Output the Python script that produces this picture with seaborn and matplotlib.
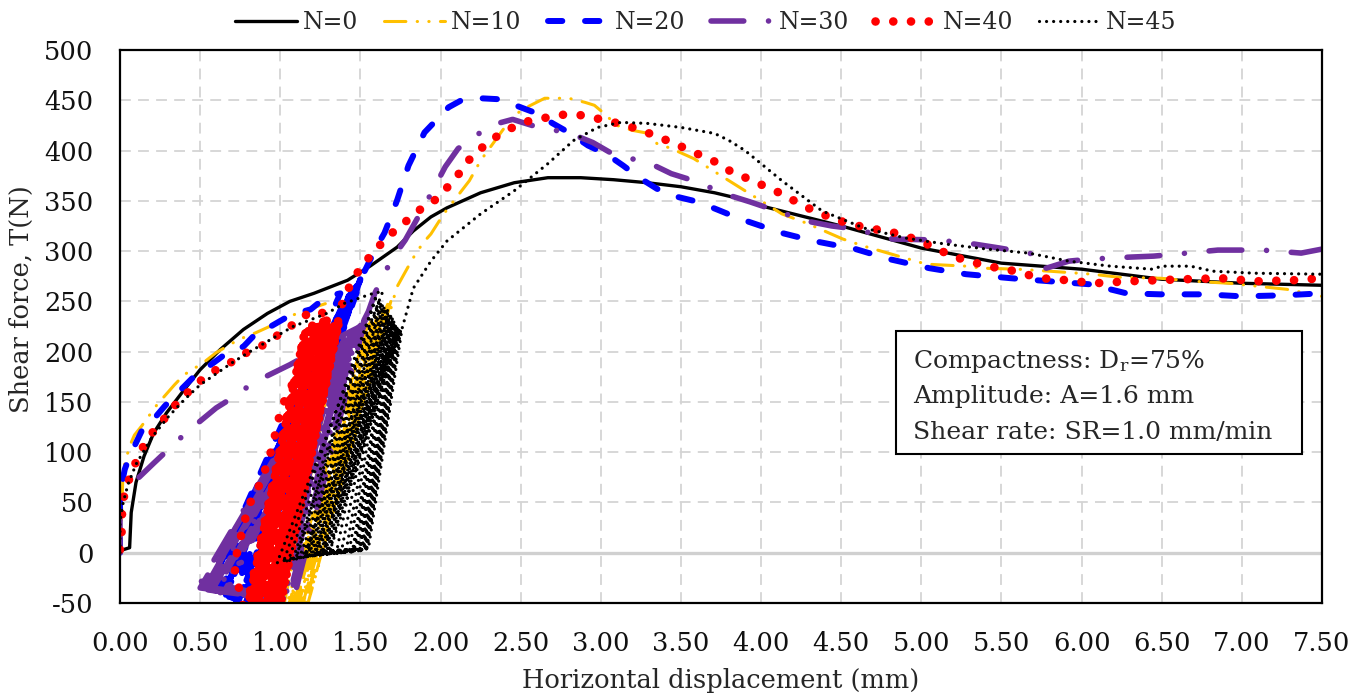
import numpy as np
import pandas as pd
import matplotlib
matplotlib.use("Agg")
import matplotlib.pyplot as plt
from matplotlib.patches import Rectangle
import seaborn as sns

sns.set_theme(style="white")
plt.rcParams['font.family'] = ['DejaVu Serif']
plt.rcParams['mathtext.fontset'] = 'dejavuserif'

labels = ["N=0", "N=10", "N=20", "N=30", "N=40", "N=45"]
colors = ["#000000", "#FFC000", "#0000FF", "#7030A0", "#FF0000", "#000000"]
x_ticks = [0.0, 0.5, 1.0, 1.5, 2.0, 2.5, 3.0, 3.5, 4.0, 4.5, 5.0, 5.5, 6.0, 6.5, 7.0, 7.5]
y_ticks = [-50, 0, 50, 100, 150, 200, 250, 300, 350, 400, 450, 500]

# ---------------- N=0 (monotonic) ----------------
n0_x = [0.0, 0.06, 0.07, 0.1, 0.15, 0.21, 0.29, 0.4, 0.5, 0.625, 0.77, 0.92, 1.06, 1.21, 1.42, 1.56,
        1.73, 1.83, 1.94, 2.04, 2.25, 2.46, 2.67, 2.875, 3.08, 3.29, 3.5, 3.71, 3.92, 4.0, 4.5, 5.0,
        5.5, 6.0, 6.5, 7.0, 7.5]
n0_y = [2, 5, 40, 70, 96, 119, 139, 162, 182, 202, 222, 238, 250, 258, 271, 285,
        304, 320, 334, 343, 358, 368, 373, 373, 371, 368, 364, 358, 350, 345, 325, 303,
        288, 282, 272, 268, 266]

# ---------------- N=10 ----------------
n10_init_x = [0.0, 0.01, 0.02, 0.06, 0.09, 0.135, 0.23, 0.34, 0.4, 0.52, 0.6, 0.74, 0.85, 1.03, 1.125, 1.23, 1.42]
n10_init_y = [0, 40, 83, 106, 117, 126, 147, 167, 177, 189, 199, 212, 219, 232, 240, 245, 255]
n10_bot_x = [0.98, 1.00, 1.01, 1.03, 1.04, 1.06, 1.07, 1.09, 1.10, 1.12]
n10_bot_y = [-85, -82, -84, -80, -83, -81, -84, -80, -82, -80]
n10_top_x = [1.55, 1.57, 1.59, 1.61, 1.62, 1.64, 1.65, 1.67, 1.69, 1.71]
n10_top_y = [230, 234, 236, 239, 241, 243, 245, 247, 250, 254]
n10_post_x = [1.72, 1.8, 1.84, 1.89, 1.94, 2.02, 2.18, 2.25, 2.4, 2.5, 2.65, 2.8, 2.9, 2.96, 3.02, 3.1,
              3.2, 3.3, 3.35, 3.44, 3.58, 3.8, 3.92, 4.13, 4.28, 4.51, 4.64, 4.9, 5.03, 5.28, 5.38, 5.6,
              5.8, 6.07, 6.23, 6.49, 6.7, 6.92, 7.1, 7.28, 7.5]
n10_post_y = [262, 285, 296, 308, 317, 337, 370, 390, 423, 440, 452, 452, 448, 445, 437, 425,
              420, 417, 407, 402, 392, 370, 358, 337, 328, 312, 305, 293, 287, 285, 283, 282,
              280, 277, 274, 273, 270, 268, 265, 262, 255]

# ---------------- N=20 ----------------
n20_init_x = [0.0, 0.0, 0.03, 0.06, 0.15, 0.2, 0.28, 0.36, 0.46, 0.55, 0.67, 0.77, 0.86, 0.94, 1.07, 1.19, 1.29, 1.375]
n20_init_y = [0, 60, 83, 96, 126, 131, 146, 159, 175, 185, 199, 205, 220, 225, 237, 242, 255, 258]
n20_bot_x = [0.58, 0.60, 0.62, 0.63, 0.65, 0.66, 0.68, 0.70, 0.72, 0.74, 0.76, 0.78]
n20_bot_y = [-27, -30, -35, -38, -40, -42, -44, -45, -47, -48, -50, -52]
n20_top_x = [1.40, 1.41, 1.42, 1.43, 1.44, 1.45, 1.46, 1.47, 1.48, 1.49, 1.50, 1.52]
n20_top_y = [250, 252, 254, 256, 258, 260, 262, 264, 266, 268, 272, 278]
n20_post_x = [1.6, 1.65, 1.69, 1.73, 1.8, 1.9, 2.05, 2.13, 2.25, 2.37, 2.5, 2.6, 2.7, 2.8, 2.92, 3.04,
              3.14, 3.24, 3.35, 3.45, 3.58, 3.7, 3.87, 4.0, 4.13, 4.33, 4.59, 4.8, 5.05, 5.28, 5.56,
              5.8, 6.05, 6.28, 6.49, 6.77, 7.0, 7.26, 7.5]
n20_post_y = [304, 318, 334, 351, 385, 418, 443, 450, 452, 451, 443, 437, 427, 418, 405, 396,
              385, 373, 362, 355, 350, 343, 332, 325, 318, 310, 302, 292, 283, 277, 273,
              270, 267, 258, 257, 257, 255, 256, 258]

# ---------------- N=30 ----------------
n30_init_x = [0.0, 0.0, 0.04, 0.06, 0.21, 0.31, 0.41, 0.6, 0.72, 0.83, 1.06, 1.375, 1.5]
n30_init_y = [0, 50, 63, 66, 89, 104, 119, 144, 156, 169, 187, 215, 225]
n30_b1_x = [0.92, 0.93, 0.95, 0.96, 0.98, 0.99, 1.00, 1.02, 1.03, 1.05, 1.06, 1.08]
n30_b1_y = [-42, -44, -45, -43, -46, -44, -45, -47, -44, -46, -45, -48]
n30_b2_x = [0.48, 0.50, 0.52, 0.53, 0.55, 0.57, 0.58, 0.60, 0.62, 0.64, 0.66, 0.68]
n30_b2_y = [-36, -35, -38, -34, -37, -35, -36, -38, -35, -37, -36, -34]
n30_top_x = [1.40, 1.42, 1.43, 1.44, 1.46, 1.47, 1.48, 1.49, 1.50, 1.52, 1.53, 1.55]
n30_top_y = [212, 215, 218, 216, 220, 222, 219, 224, 226, 228, 232, 240]
n30_post_x = [1.59, 1.625, 1.7, 1.78, 1.85, 1.92, 1.96, 2.03, 2.11, 2.31, 2.45, 2.57, 2.81, 2.95, 3.07,
              3.31, 3.44, 3.56, 3.81, 3.93, 4.06, 4.28, 4.44, 4.59, 4.82, 5.1, 5.33, 5.49, 5.6, 5.7,
              5.74, 5.78, 5.92, 6.05, 6.3, 6.45, 6.59, 6.85, 6.97, 7.13, 7.37, 7.5]
n30_post_y = [258, 270, 293, 311, 331, 351, 363, 384, 402, 425, 431, 425, 417, 408, 397,
              387, 377, 371, 355, 349, 342, 330, 325, 322, 312, 311, 307, 303, 300, 297,
              283, 283, 290, 292, 294, 295, 297, 301, 301, 301, 298, 302]

# ---------------- N=40 ----------------
n40_init_x = [0.0, 0.01, 0.01, 0.02, 0.05, 0.08, 0.135, 0.2, 0.27, 0.34, 0.42, 0.51, 0.6, 0.7, 0.79,
              0.9, 0.99, 1.08, 1.19, 1.25, 1.3, 1.09, 1.04, 1.0, 0.95, 0.92, 0.875, 0.82, 0.78, 0.73, 0.71]
n40_init_y = [3, 17, 33, 53, 70, 83, 103, 119, 132, 146, 159, 172, 182, 190, 199,
              207, 217, 227, 240, 238, 240, 172, 157, 140, 105, 89, 69, 53, 33, 0, -12]
n40_bot_x = [0.78, 0.79, 0.80, 0.81, 0.82, 0.83, 0.84, 0.85, 0.86, 0.87, 0.88, 0.89, 0.90, 0.91, 0.92,
             0.93, 0.94, 0.95, 0.96, 0.97, 0.98, 0.99]
n40_bot_y = [-62, -60, -63, -61, -60, -64, -62, -60, -63, -61, -62, -60, -64, -61, -62,
             -60, -63, -61, -62, -60, -61, -60]
n40_top_x = [1.15, 1.16, 1.18, 1.19, 1.20, 1.22, 1.23, 1.24, 1.25, 1.26, 1.27, 1.28, 1.29, 1.30, 1.31,
             1.32, 1.33, 1.34, 1.35, 1.36, 1.37, 1.38]
n40_top_y = [218, 221, 224, 222, 226, 223, 228, 225, 229, 226, 230, 227, 231, 228, 226,
             230, 227, 229, 226, 228, 232, 245]
n40_post_x = [1.42, 1.47, 1.54, 1.61, 1.69, 1.78, 1.86, 1.96, 2.04, 2.11, 2.18, 2.26, 2.35, 2.45, 2.56,
              2.67, 2.78, 2.89, 3.0, 3.11, 3.22, 3.32, 3.43, 3.53, 3.64, 3.74, 3.83, 3.94, 4.04, 4.13,
              4.23, 4.33, 4.44, 4.55, 4.67, 4.77, 4.87, 4.99, 5.09, 5.19, 5.3, 5.41, 5.53, 5.63, 5.74,
              5.85, 5.96, 6.08, 6.3, 6.64, 6.87, 7.09, 7.32, 7.5]
n40_post_y = [261, 276, 291, 304, 317, 329, 340, 350, 363, 376, 391, 403, 414, 423, 430,
              433, 436, 435, 431, 427, 422, 416, 409, 402, 394, 387, 377, 371, 363, 357,
              348, 340, 333, 327, 323, 320, 317, 310, 303, 295, 290, 285, 282, 278, 273,
              272, 270, 268, 270, 272, 273, 270, 271, 273]

# ---------------- N=45 ----------------
n45_init_x = [0.0, 0.0, 0.02, 0.05, 0.1, 0.2, 0.3, 0.4, 0.5, 0.6, 0.7, 0.8, 0.875, 1.08, 1.29, 1.4, 1.56, 1.64]
n45_init_y = [0, 30, 50, 68, 88, 115, 135, 152, 167, 178, 189, 199, 206, 225, 238, 248, 257, 260]
n45_bl_x = [0.98, 1.02, 1.05, 1.08, 1.10, 1.12, 1.14, 1.15, 1.16, 1.17, 1.18, 1.19, 1.20, 1.21, 1.22,
            1.23, 1.24, 1.25, 1.26, 1.27, 1.28, 1.29, 1.30, 1.31]
n45_bl_y = [-10, -9, -8, -6, -5, -5, -4, -4, -3, -3, -2, -2, -2, -1, -1,
            0, 0, 0, 1, 1, 1, 2, 2, 2]
n45_br_x = [1.10, 1.16, 1.22, 1.27, 1.31, 1.35, 1.38, 1.41, 1.43, 1.45, 1.46, 1.47, 1.48, 1.49, 1.50,
            1.50, 1.51, 1.52, 1.52, 1.53, 1.53, 1.54, 1.54, 1.55]
n45_br_y = [-4, -3, -2, -1, 0, 0, 0, 1, 1, 1, 1, 2, 2, 2, 2,
            3, 3, 3, 3, 3, 4, 4, 4, 4]
n45_top_x = [1.60, 1.62, 1.63, 1.64, 1.65, 1.66, 1.67, 1.67, 1.68, 1.69, 1.69, 1.70, 1.70, 1.71, 1.71,
             1.72, 1.72, 1.73, 1.73, 1.74, 1.74, 1.75, 1.75, 1.76]
n45_top_y = [256, 252, 249, 247, 245, 243, 241, 239, 237, 236, 234, 233, 231, 230, 229,
             228, 227, 226, 225, 224, 223, 222, 221, 223]
n45_post_x = [1.83, 1.94, 2.04, 2.25, 2.46, 2.67, 2.83, 2.98, 3.125, 3.29, 3.5, 3.71, 3.8, 3.9, 4.13,
              4.38, 4.64, 4.9, 5.15, 5.41, 5.67, 5.92, 6.18, 6.44, 6.5, 6.68, 6.82, 7.08, 7.5]
n45_post_y = [263, 290, 310, 337, 360, 387, 410, 423, 428, 427, 423, 417, 410, 400, 370,
              340, 323, 313, 307, 302, 298, 290, 285, 282, 285, 285, 280, 278, 277]


def build(init_x, init_y, bottoms, tops, post_x, post_y):
    """Concatenate the measured points in recording order."""
    xs, ys = list(init_x), list(init_y)
    for i in range(len(tops[0])):
        for bx, by in bottoms:
            xs.append(bx[i]); ys.append(by[i])
        xs.append(tops[0][i]); ys.append(tops[1][i])
    xs += list(post_x); ys += list(post_y)
    return xs, ys


paths = [
    (list(n0_x), list(n0_y)),
    build(n10_init_x, n10_init_y, [(n10_bot_x, n10_bot_y)], (n10_top_x, n10_top_y), n10_post_x, n10_post_y),
    build(n20_init_x, n20_init_y, [(n20_bot_x, n20_bot_y)], (n20_top_x, n20_top_y), n20_post_x, n20_post_y),
    build(n30_init_x, n30_init_y, [(n30_b1_x, n30_b1_y), (n30_b2_x, n30_b2_y)], (n30_top_x, n30_top_y),
          n30_post_x, n30_post_y),
    build(n40_init_x, n40_init_y, [(n40_bot_x, n40_bot_y)], (n40_top_x, n40_top_y), n40_post_x, n40_post_y),
    build(n45_init_x, n45_init_y, [(n45_bl_x, n45_bl_y), (n45_br_x, n45_br_y)], (n45_top_x, n45_top_y),
          n45_post_x, n45_post_y),
]

styles = [
    dict(lw=2.4, ls="-"),
    dict(lw=2.2, ls=(0, (7, 3.7, 0.1, 3.7, 0.1, 3.7))),
    dict(lw=4.3, ls=(0, (2.4, 3.8))),
    dict(lw=4.0, ls=(0, (5.9, 4.45, 0.01, 4.45))),
    dict(lw=6.2, ls=(0, (0.01, 2.05))),
    dict(lw=2.3, ls=(0, (0.01, 2.2))),
]

fig = plt.figure(figsize=(13.67, 6.97), dpi=100)
ax = fig.add_axes([120 / 1367, 94 / 697, 1202 / 1367, 553 / 697])

# grid and zero line
for xv in x_ticks[1:-1]:
    ax.axvline(xv, color="#D4D4D4", lw=1.3, ls=(0, (6, 4)), zorder=0)
for yv in y_ticks[1:-1]:
    if yv == 0:
        ax.axhline(0, color="#D0D0D0", lw=2.4, zorder=0)
    else:
        ax.axhline(yv, color="#D4D4D4", lw=1.3, ls=(0, (6, 4)), zorder=0)

for (xs, ys), lab, col, st in zip(paths, labels, colors, styles):
    df = pd.DataFrame({"x": xs, "y": ys})
    before = len(ax.lines)
    sns.lineplot(data=df, x="x", y="y", sort=False, estimator=None, color=col, ax=ax, label=lab)
    line = ax.lines[before]
    line.set_linewidth(st["lw"])
    line.set_linestyle(st["ls"])
    line.set_dash_capstyle("round")
    line.set_solid_capstyle("round")
    line.set_solid_joinstyle("round")
    line.set_dash_joinstyle("round")

ax.set_xlim(0, 7.5)
ax.set_ylim(-50, 500)
ax.set_xticks(x_ticks)
ax.set_yticks(y_ticks)
ax.set_xticklabels([f"{v:.2f}" for v in x_ticks])
ax.set_yticklabels([str(v) for v in y_ticks])
ax.tick_params(axis="both", length=0, labelsize=18.5, colors="#111111")
ax.tick_params(axis="x", pad=20)
ax.tick_params(axis="y", pad=19)
for sp in ax.spines.values():
    sp.set_visible(True)
    sp.set_color("black")
    sp.set_linewidth(1.6)
ax.grid(False)

ax.set_xlabel("Horizontal displacement (mm)", fontsize=18.5, labelpad=9)
ax.set_ylabel("Shear force, T(N)", fontsize=18.5)
ax.yaxis.set_label_coords(-0.072, 0.55)

leg = ax.legend(loc="center", bbox_to_anchor=(0.4875, 1.05), ncol=6, frameon=False,
                handlelength=2.6, handletextpad=0.25, columnspacing=1.1, fontsize=17,
                borderaxespad=0)

ax.add_patch(Rectangle((0.6456, 0.27), 0.3378, 0.2225, transform=ax.transAxes, fill=True,
                       facecolor="white", edgecolor="black", lw=1.5, zorder=5))
ax.text(0.6597, 0.425, r"Compactness: D$_\mathrm{r}$=75%", transform=ax.transAxes,
        fontsize=18, va="baseline", ha="left", zorder=6)
ax.text(0.6597, 0.3617, "Amplitude: A=1.6 mm", transform=ax.transAxes,
        fontsize=18, va="baseline", ha="left", zorder=6)
ax.text(0.6597, 0.2966, "Shear rate: SR=1.0 mm/min", transform=ax.transAxes,
        fontsize=18, va="baseline", ha="left", zorder=6)

fig.savefig("out.png", dpi=100)
